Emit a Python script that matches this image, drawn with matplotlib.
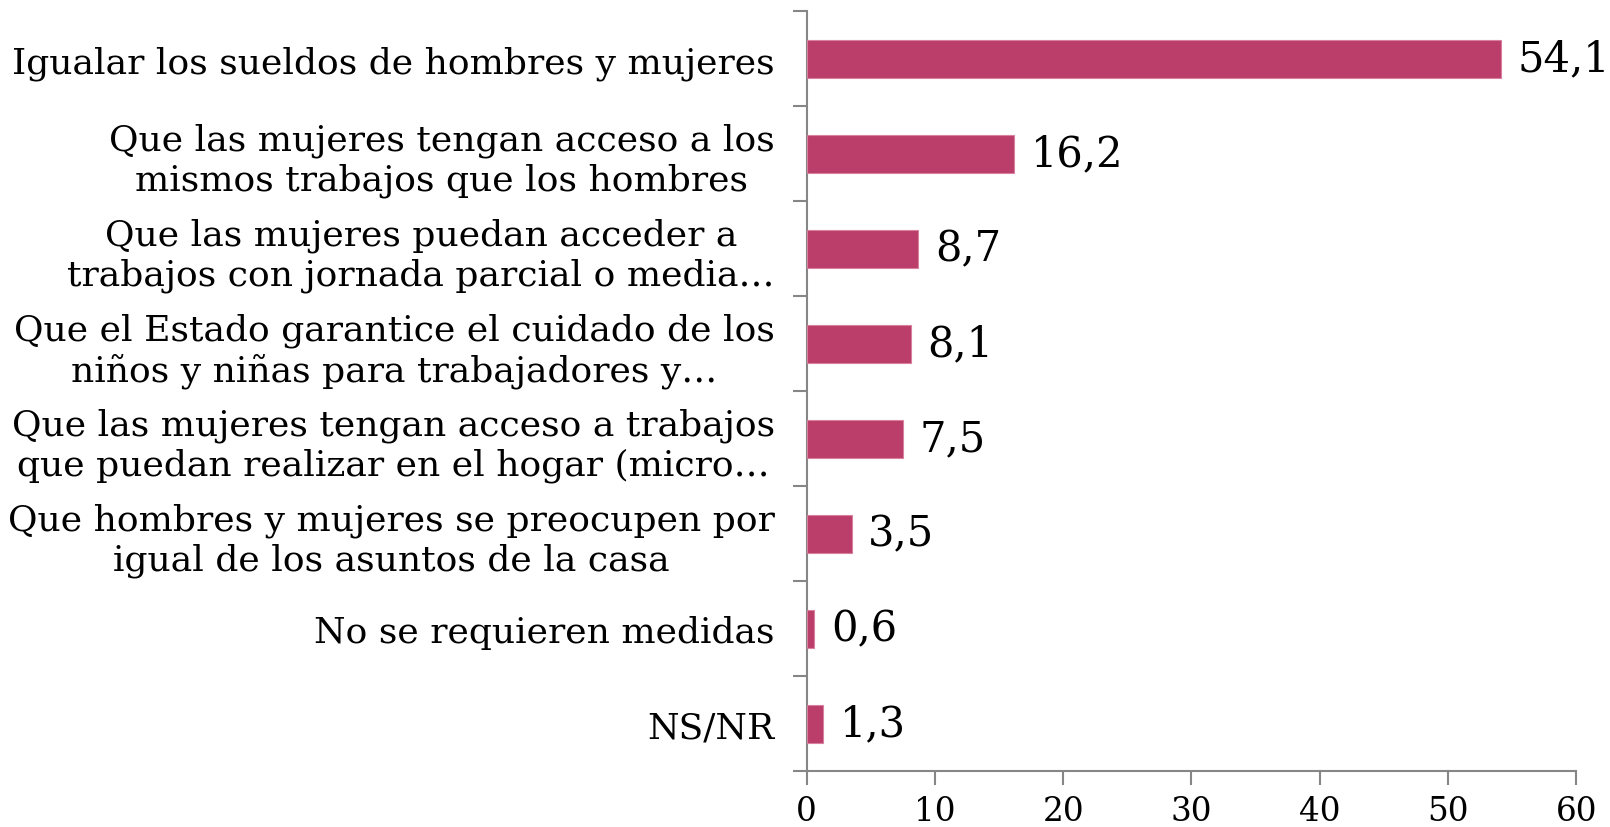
import matplotlib
matplotlib.use("Agg")
import matplotlib.pyplot as plt

categories = [
    "Igualar los sueldos de hombres y mujeres",
    "Que las mujeres tengan acceso a los\nmismos trabajos que los hombres",
    "Que las mujeres puedan acceder a\ntrabajos con jornada parcial o media…",
    "Que el Estado garantice el cuidado de los\nniños y niñas para trabajadores y…",
    "Que las mujeres tengan acceso a trabajos\nque puedan realizar en el hogar (micro…",
    "Que hombres y mujeres se preocupen por\nigual de los asuntos de la casa",
    "No se requieren medidas",
    "NS/NR",
]
values = [54.1, 16.2, 8.7, 8.1, 7.5, 3.5, 0.6, 1.3]
xticks = [0, 10, 20, 30, 40, 50, 60]

plt.rcParams['font.family'] = ['DejaVu Serif']

fig = plt.figure(figsize=(16.1, 8.28), dpi=100)
ax = fig.add_axes([0.501, 0.0676, 0.979 - 0.501, 0.9855 - 0.0676])

n = len(categories)
ypos = list(range(n))
ax.barh(ypos, values, height=0.4, color="#BA3E69", edgecolor="#D9809F", linewidth=0.8, zorder=3)
ax.set_ylim(n - 0.5, -0.5)
ax.set_xlim(0, 60)

for y, v in zip(ypos, values):
    ax.text(v + 1.3, y, f"{v:.1f}".replace(".", ","), va="center", ha="left", fontsize=30, color="black")

ax.set_yticks([i - 0.5 for i in range(n + 1)], minor=False)
ax.set_yticklabels([])
ax.set_yticks(ypos, minor=True)
ax.set_yticklabels(categories, minor=True, fontsize=26, multialignment="center", linespacing=1.2)
ax.tick_params(axis="y", which="minor", length=0, pad=23)
ax.tick_params(axis="y", which="major", length=10, width=1.5, color="#868686", direction="out")

ax.set_xticks(xticks)
ax.set_xticklabels([str(t) for t in xticks], fontsize=23.5)
ax.tick_params(axis="x", length=10, width=1.5, color="#868686", direction="out", pad=7)

for s in ["top", "right"]:
    ax.spines[s].set_visible(False)
for s in ["left", "bottom"]:
    ax.spines[s].set_color("#868686")
    ax.spines[s].set_linewidth(1.5)

fig.savefig("out.png", dpi=100)
